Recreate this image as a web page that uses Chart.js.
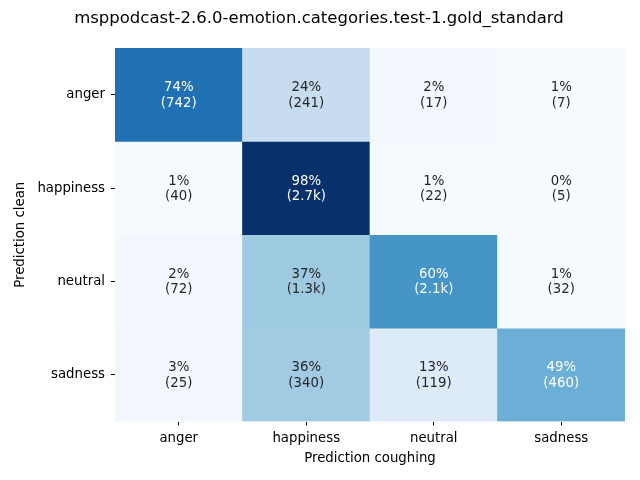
<!DOCTYPE html>
<html>
<head>
<meta charset="utf-8">
<script src="https://cdn.jsdelivr.net/npm/chart.js@4"></script>
<style>
  html, body { margin: 0; padding: 0; background: #fff; }
  #wrap { width: 640px; height: 480px; }
</style>
</head>
<body>
<div id="wrap"><canvas id="cm"></canvas></div>
<script>
// confusion matrix: rows = prediction clean, columns = prediction coughing
const rowLabels = ['anger', 'happiness', 'neutral', 'sadness'];
const colLabels = ['anger', 'happiness', 'neutral', 'sadness'];
const percents = [
  [74, 24, 2, 1],
  [1, 98, 1, 0],
  [2, 37, 60, 1],
  [3, 36, 13, 49]
];
const counts = [
  ['742', '241', '17', '7'],
  ['40', '2.7k', '22', '5'],
  ['72', '1.3k', '2.1k', '32'],
  ['25', '340', '119', '460']
];

// matplotlib "Blues" stops
const blues = ['#f7fbff', '#deebf7', '#c6dbef', '#9ecae1', '#6baed6', '#4292c6', '#2171b5', '#08519c', '#08306b'];
const vmax = Math.max(...percents.flat());

function hexToRgb(h) {
  return [1, 3, 5].map(i => parseInt(h.slice(i, i + 2), 16));
}

function bluesRgb(v) {
  const t = Math.min(1, Math.max(0, v / vmax)) * (blues.length - 1);
  const i = Math.min(blues.length - 2, Math.floor(t));
  const f = t - i;
  const a = hexToRgb(blues[i]), b = hexToRgb(blues[i + 1]);
  return a.map((c, k) => Math.round(c + (b[k] - c) * f));
}

function textColor(v) {
  const lum = bluesRgb(v).map(c => {
    c /= 255;
    return c <= 0.03928 ? c / 12.92 : Math.pow((c + 0.055) / 1.055, 2.4);
  });
  const l = 0.2126 * lum[0] + 0.7152 * lum[1] + 0.0722 * lum[2];
  return l > 0.408 ? '#262626' : '#ffffff';
}

const datasets = rowLabels.map((name, r) => ({
  label: name,
  data: colLabels.map(() => [r, r + 1]),
  backgroundColor: percents[r].map(v => 'rgb(' + bluesRgb(v).join(',') + ')'),
  borderWidth: 0,
  grouped: false,
  barPercentage: 1,
  categoryPercentage: 1
}));

// write "xx%\n(count)" in each cell
const cellText = {
  id: 'cellText',
  afterDatasetsDraw(chart) {
    const ctx = chart.ctx;
    ctx.save();
    ctx.font = '13.3px "DejaVu Sans"';
    ctx.textAlign = 'center';
    ctx.textBaseline = 'middle';
    chart.data.datasets.forEach((ds, r) => {
      chart.getDatasetMeta(r).data.forEach((bar, c) => {
        const p = bar.getCenterPoint();
        ctx.fillStyle = textColor(percents[r][c]);
        ctx.fillText(percents[r][c] + '%', p.x, p.y - 7);
        ctx.fillText('(' + counts[r][c] + ')', p.x, p.y + 8.5);
      });
    });
    ctx.restore();
  }
};

Chart.defaults.font.family = '"DejaVu Sans", sans-serif';
Chart.defaults.color = '#000';

new Chart(document.getElementById('cm'), {
  type: 'bar',
  data: { labels: colLabels, datasets: datasets },
  options: {
    responsive: true,
    maintainAspectRatio: false,
    animation: false,
    layout: { padding: { top: 0, right: 15, bottom: 0, left: 13 } },
    plugins: {
      legend: { display: false },
      tooltip: { enabled: false },
      title: {
        display: true,
        text: 'msppodcast-2.6.0-emotion.categories.test-1.gold_standard',
        color: '#000',
        font: { size: 16.5, weight: 'normal' },
        padding: { top: 9, bottom: 19.2 }
      }
    },
    scales: {
      x: {
        offset: true,
        grid: { offset: false, drawOnChartArea: false, tickLength: 4, color: '#000', tickWidth: 1 },
        border: { display: false },
        ticks: { font: { size: 13.3 }, padding: 5, maxRotation: 0 },
        title: { display: true, text: 'Prediction coughing', font: { size: 13.3 }, padding: { top: 2, bottom: 13 } },
        afterFit(scale) { scale.height = 58.5; }
      },
      y: {
        min: 0,
        max: 4,
        reverse: true,
        grid: { drawOnChartArea: false, tickLength: 4, color: '#000', tickWidth: 1 },
        border: { display: false },
        afterBuildTicks(scale) {
          scale.ticks = rowLabels.map((n, i) => ({ value: i + 0.5 }));
        },
        ticks: {
          font: { size: 13.3 },
          padding: 6,
          callback: v => rowLabels[Math.floor(v)]
        },
        title: { display: true, text: 'Prediction clean', font: { size: 13.3 }, padding: { top: 0, bottom: 0 } },
        afterFit(scale) { scale.width = 102; }
      }
    }
  },
  plugins: [cellText]
});
</script>
</body>
</html>
